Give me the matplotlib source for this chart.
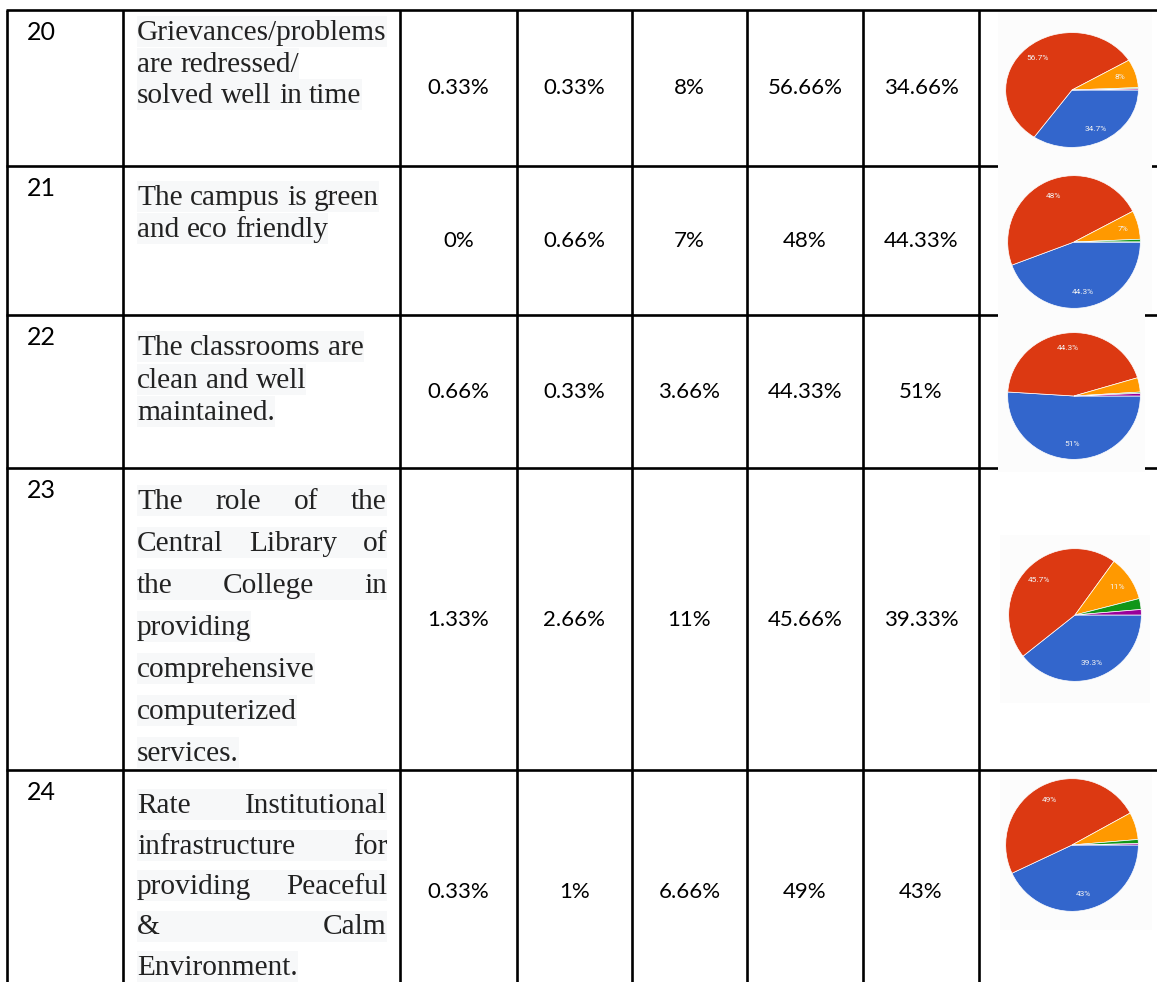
import matplotlib.pyplot as plt
from matplotlib.patches import Rectangle

W, H = 1157, 982

row_ids = [20, 21, 22, 23, 24]
questions = [
    ["Grievances/problems", "are redressed/", "solved well in time"],
    ["The campus is green", "and eco friendly"],
    ["The classrooms are", "clean and well", "maintained."],
    ["The role of the", "Central Library of", "the College in", "providing",
     "comprehensive", "computerized", "services."],
    ["Rate Institutional", "infrastructure for", "providing Peaceful",
     "& Calm", "Environment."],
]
justified = [False, False, False, True, True]

strongly_disagree = [0.33, 0, 0.66, 1.33, 0.33]
disagree = [0.33, 0.66, 0.33, 2.66, 1]
neutral = [8, 7, 3.66, 11, 6.66]
agree = [56.66, 48, 44.33, 45.66, 49]
strongly_agree = [34.66, 44.33, 51, 39.33, 43]

# table geometry (pixels)
col_x = [7, 123, 400, 517, 632, 747, 863, 979, 1157]
row_y = [10, 166, 315, 468, 770, 1020]
line_step = [31.5, 32, 32.5, 42, 40.5]
first_base = [40, 205, 355, 509, 813]
pct_y = [88, 241, 392, 620, 892]

# pie placement: centre x, centre y, x radius, y radius
pie_box = [(1072, 90, 67, 58), (1074, 242, 67, 67), (1074, 396, 67, 64),
           (1075, 615, 67, 67), (1072, 845, 67, 67)]
img_box = [(998, 12, 1152, 162), (998, 161, 1152, 312), (998, 312, 1145, 472),
           (1000, 535, 1150, 703), (1000, 773, 1152, 930)]

pie_colors = ["#3366CC", "#DC3912", "#FF9900", "#109618", "#990099"]

fig = plt.figure(figsize=(W / 100, H / 100), dpi=100)
ax = fig.add_axes([0, 0, 1, 1])
ax.set_xlim(0, W)
ax.set_ylim(H, 0)
ax.axis("off")
renderer = fig.canvas.get_renderer()

lw = 1.9
for x in col_x[:-1]:
    ax.plot([x, x], [row_y[0], H], color="black", lw=lw, solid_capstyle="butt", zorder=3.5)
for y in row_y[:-1]:
    ax.plot([col_x[0] - 1, W], [y, y], color="black", lw=lw, solid_capstyle="butt", zorder=3.5)

serif = dict(family="Liberation Serif", fontsize=21.2, color="#222222")
sans_pct = dict(family="Lato", fontsize=16, color="black")


def width_of(s):
    t = ax.text(0, 0, s, **serif)
    w = t.get_window_extent(renderer).width
    t.remove()
    return w


space_w = width_of("a a") - 2 * width_of("a")


def text_line(line, x0, x1, y, justify):
    words = line.split()
    items = [ax.text(0, y, w, va="baseline", ha="left", zorder=3, **serif) for w in words]
    widths = [t.get_window_extent(renderer).width for t in items]
    if justify and len(words) > 1:
        gap = (x1 - x0 - sum(widths)) / (len(words) - 1)
    else:
        gap = space_w
    x = x0
    for t, w in zip(items, widths):
        t.set_x(x)
        x += w + gap
    right = x1 if (justify and len(words) > 1) else x - gap
    ax.add_patch(Rectangle((x0, y - 24), right - x0, 31, facecolor="#F7F8F9",
                           edgecolor="none", zorder=2))


for i, rid in enumerate(row_ids):
    top = row_y[i]
    ax.text(col_x[0] + 20, top + 30, str(rid), family="Lato", fontsize=18,
            va="baseline", ha="left", color="black")
    for k, line in enumerate(questions[i]):
        last = k == len(questions[i]) - 1
        text_line(line, 137, 387, first_base[i] + k * line_step[i],
                  justified[i] and not last)

    vals = [strongly_disagree[i], disagree[i], neutral[i], agree[i], strongly_agree[i]]
    for j, v in enumerate(vals):
        cx = (col_x[2 + j] + col_x[3 + j]) / 2
        ax.text(cx, pct_y[i], f"{v:g}%", ha="center", va="center", **sans_pct)

    # pie image background covering the grid
    bx0, by0, bx1, by1 = img_box[i]
    ax.add_patch(Rectangle((bx0, by0), bx1 - bx0, by1 - by0, facecolor="#FCFCFC",
                           edgecolor="none", zorder=4))

    cx, cy, rx, ry = pie_box[i]
    pax = fig.add_axes([(cx - rx) / W, 1 - (cy + ry) / H, 2 * rx / W, 2 * ry / H])
    slices = vals[::-1]
    labels = [f"{round(v, 1):g}%" if v >= 7 else "" for v in slices]
    pax.pie(slices, colors=pie_colors, startangle=0, counterclock=False,
            labels=labels, labeldistance=0.76, normalize=True,
            wedgeprops=dict(edgecolor="white", linewidth=0.5),
            textprops=dict(color="#F2F2F2", fontsize=6, family="Roboto",
                           ha="center", va="center"))
    pax.set_aspect("auto")
    pax.set_xlim(-1.01, 1.01)
    pax.set_ylim(-1.01, 1.01)
    pax.axis("off")

fig.savefig("out.png", dpi=100)
